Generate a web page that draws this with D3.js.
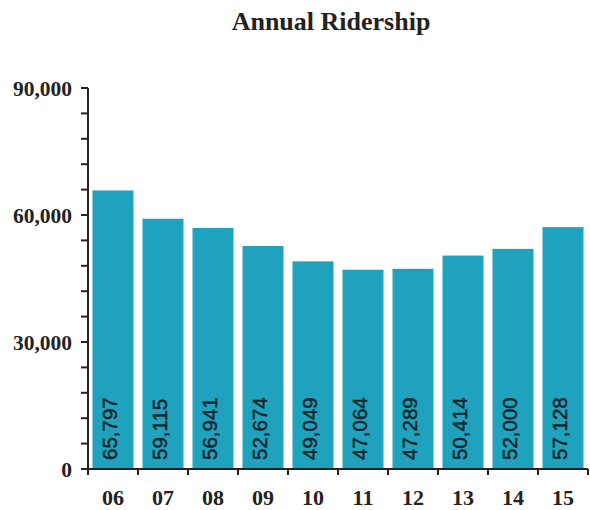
<!DOCTYPE html>
<html>
<head>
<meta charset="utf-8">
<script src="https://cdn.jsdelivr.net/npm/d3@7"></script>
<style>
  html, body { margin: 0; padding: 0; background: #ffffff; }
  svg { display: block; }
</style>
</head>
<body>
<svg id="chart" width="590" height="510"></svg>
<script>
// Annual ridership by fiscal year
const years = ["06", "07", "08", "09", "10", "11", "12", "13", "14", "15"];
const riders = [65797, 59115, 56941, 52674, 49049, 47064, 47289, 50414, 52000, 57128];
const yTickValues = [0, 30000, 60000, 90000];

const svg = d3.select("#chart");
const margin = { top: 88, right: 2, bottom: 41, left: 88 };
const width = 590 - margin.left - margin.right;
const height = 510 - margin.top - margin.bottom;

const g = svg.append("g").attr("transform", `translate(${margin.left},${margin.top})`);

const x = d3.scaleBand().domain(years).range([0, width]).paddingInner(0.18).paddingOuter(0.09);
const y = d3.scaleLinear().domain([0, 90000]).range([height, 0]);

// Title
svg.append("text")
  .attr("x", 331).attr("y", 30)
  .attr("text-anchor", "middle")
  .style("font-family", "'Liberation Serif', 'Times New Roman', serif")
  .style("font-weight", "bold")
  .style("font-size", "26px")
  .attr("fill", "#222")
  .text("Annual Ridership");

// Bars
g.selectAll("rect.bar")
  .data(riders)
  .join("rect")
  .attr("class", "bar")
  .attr("x", (d, i) => x(years[i]))
  .attr("y", d => y(d))
  .attr("width", x.bandwidth())
  .attr("height", d => height - y(d))
  .attr("fill", "#1fa2bd");

// Value labels, rotated inside bars
g.selectAll("text.val")
  .data(riders)
  .join("text")
  .attr("class", "val")
  .attr("transform", (d, i) => `translate(${x(years[i]) + x.bandwidth() / 2 + 4},${height - 9}) rotate(-90)`)
  .style("font-family", "'Liberation Sans', Arial, sans-serif")
  .style("font-size", "20.5px")
  .attr("fill", "#10242a")
  .attr("stroke", "#10242a")
  .attr("stroke-width", 0.45)
  .text(d => d3.format(",")(d));

// Y axis with minor ticks
const yMinor = d3.range(0, 90001, 6000);
const yAxisG = g.append("g");
yAxisG.append("line")
  .attr("x1", 0).attr("x2", 0)
  .attr("y1", y(90000)).attr("y2", y(0))
  .attr("stroke", "#222").attr("stroke-width", 2);
yAxisG.selectAll("line.tick")
  .data(yMinor)
  .join("line")
  .attr("class", "tick")
  .attr("x1", -7).attr("x2", 0)
  .attr("y1", d => y(d)).attr("y2", d => y(d))
  .attr("stroke", "#222").attr("stroke-width", 2);
yAxisG.selectAll("text")
  .data(yTickValues)
  .join("text")
  .attr("x", -16)
  .attr("y", d => y(d))
  .attr("dy", "0.35em")
  .attr("text-anchor", "end")
  .style("font-family", "'Liberation Serif', 'Times New Roman', serif")
  .style("font-weight", "bold")
  .style("font-size", "21.5px")
  .attr("fill", "#222")
  .text(d => d3.format(",")(d));

// X axis with ticks between categories
const xAxisG = g.append("g").attr("transform", `translate(0,${height})`);
xAxisG.append("line")
  .attr("x1", 0).attr("x2", width)
  .attr("stroke", "#222").attr("stroke-width", 2);
const step = x.step();
xAxisG.selectAll("line.tick")
  .data(d3.range(years.length + 1))
  .join("line")
  .attr("class", "tick")
  .attr("x1", i => i * step).attr("x2", i => i * step)
  .attr("y1", 0).attr("y2", 6)
  .attr("stroke", "#222").attr("stroke-width", 2);
xAxisG.selectAll("text")
  .data(years)
  .join("text")
  .attr("x", d => x(d) + x.bandwidth() / 2)
  .attr("y", 36)
  .attr("text-anchor", "middle")
  .style("font-family", "'Liberation Serif', 'Times New Roman', serif")
  .style("font-weight", "bold")
  .style("font-size", "22px")
  .attr("fill", "#222")
  .text(d => d);
</script>
</body>
</html>
